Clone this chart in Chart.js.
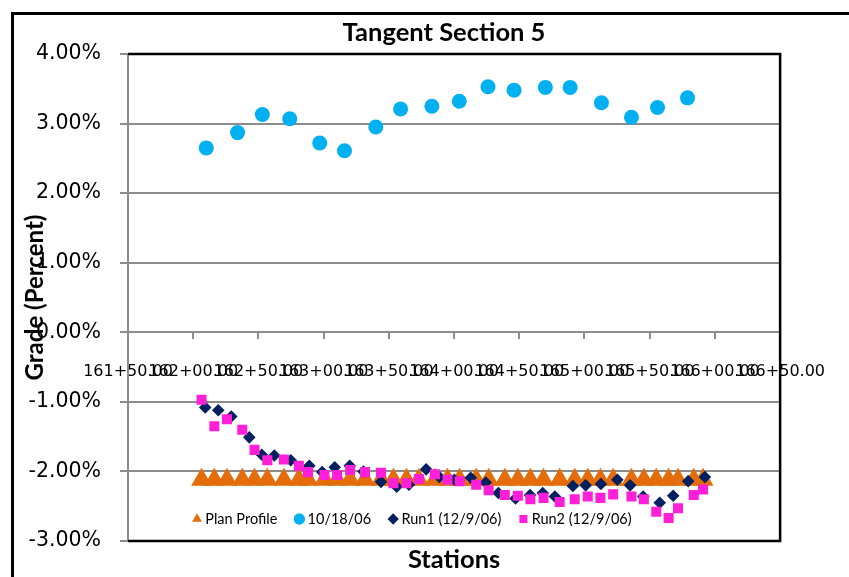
<!DOCTYPE html>
<html>
<head>
<meta charset="utf-8">
<script src="https://cdn.jsdelivr.net/npm/chart.js@4.4.1/dist/chart.umd.min.js"></script>
<style>
  html, body { margin: 0; padding: 0; width: 849px; height: 577px; overflow: hidden; background: #fff; }
  #frame { position: absolute; left: 11px; top: 12px; width: 1000px; height: 700px; border: 3px solid #000; box-sizing: border-box; }
  #wrap { position: absolute; left: 0; top: 0; width: 849px; height: 577px; }
</style>
</head>
<body>
<div id="frame"></div>
<div id="wrap"><canvas id="c" width="849" height="577"></canvas></div>
<script>
// ---- data (stations in feet, grades in percent) ----
const xTickLabels = ['161+50.00','162+00.00','162+50.00','163+00.00','163+50.00','164+00.00','164+50.00','165+00.00','165+50.00','166+00.00','166+50.00'];
const yTickLabels = ['-3.00%','-2.00%','-1.00%','0.00%','1.00%','2.00%','3.00%','4.00%'];

const seriesNames = ['Plan Profile', '10/18/06', 'Run1 (12/9/06)', 'Run2 (12/9/06)'];

const planStations = [16206.4,16216.2,16225.9,16237.6,16247.0,16256.8,16269.5,16281.0,16288.0,16300.6,16310.3,16320.3,16331.7,16344.0,16353.5,16363.5,16373.0,16385.3,16395.0,16404.3,16417.0,16426.5,16438.9,16448.9,16458.5,16468.6,16481.0,16492.5,16502.5,16512.2,16522.0,16536.0,16545.5,16555.0,16564.5,16571.7,16583.8,16590.9];
const planGrade = [-2.12,-2.12,-2.12,-2.12,-2.12,-2.12,-2.12,-2.12,-2.12,-2.12,-2.12,-2.12,-2.12,-2.12,-2.12,-2.12,-2.12,-2.12,-2.12,-2.12,-2.12,-2.12,-2.12,-2.12,-2.12,-2.12,-2.12,-2.12,-2.12,-2.12,-2.12,-2.12,-2.12,-2.12,-2.12,-2.12,-2.12,-2.12];

const oct18Stations = [16210,16234,16253,16274,16297,16316,16340,16359,16383,16404,16426,16446,16470,16489,16513,16536,16556,16579];
const oct18Grade = [2.65,2.87,3.13,3.07,2.72,2.61,2.95,3.21,3.25,3.32,3.53,3.48,3.52,3.52,3.30,3.09,3.23,3.37];

const run1Stations = [16209.2,16219.2,16229.2,16243.0,16252.6,16262.2,16274.8,16289.0,16298.9,16308.5,16320.0,16330.5,16344.0,16356.0,16365.4,16378.6,16388.7,16400.2,16412.8,16424.3,16434.0,16447.1,16458.3,16468.0,16477.3,16491.1,16500.9,16512.6,16525.2,16535.0,16545.0,16557.7,16568.0,16579.5,16592.3];
const run1Grade = [-1.08,-1.12,-1.21,-1.51,-1.76,-1.77,-1.84,-1.92,-2.01,-1.94,-1.92,-2.00,-2.15,-2.22,-2.19,-1.97,-2.08,-2.12,-2.09,-2.16,-2.31,-2.39,-2.34,-2.31,-2.36,-2.21,-2.20,-2.18,-2.12,-2.20,-2.36,-2.45,-2.35,-2.14,-2.08];

const run2Stations = [16206.4,16216.2,16225.9,16237.6,16247.0,16256.8,16269.5,16281.0,16288.0,16300.6,16310.3,16320.3,16331.7,16344.0,16353.5,16363.5,16373.0,16385.3,16395.0,16404.3,16417.0,16426.5,16438.9,16448.9,16458.5,16468.6,16481.0,16492.5,16502.5,16512.2,16522.0,16536.0,16545.5,16555.0,16564.5,16571.7,16583.8,16590.9];
const run2Grade = [-0.97,-1.35,-1.25,-1.40,-1.69,-1.84,-1.83,-1.92,-2.01,-2.05,-2.05,-1.98,-2.01,-2.02,-2.17,-2.17,-2.11,-2.04,-2.12,-2.14,-2.19,-2.27,-2.34,-2.35,-2.40,-2.38,-2.44,-2.40,-2.36,-2.38,-2.33,-2.36,-2.40,-2.58,-2.67,-2.53,-2.34,-2.26];

function pts(xs, ys) { return xs.map((x, i) => ({ x: x, y: ys[i] })); }

// frame around the plot area (top, right, bottom in black)
const plotFrame = {
  id: 'plotFrame',
  beforeDatasetsDraw(chart) {
    const { ctx, chartArea: a } = chart;
    ctx.save();
    ctx.strokeStyle = '#000';
    ctx.lineWidth = 2.5;
    ctx.beginPath();
    ctx.moveTo(a.left, a.top);
    ctx.lineTo(a.right, a.top);
    ctx.lineTo(a.right, a.bottom);
    ctx.lineTo(a.left, a.bottom);
    ctx.stroke();
    ctx.restore();
  }
};

// move the legend inside the plot area, near its bottom
const legendInside = {
  id: 'legendInside',
  afterLayout(chart) {
    const lg = chart.legend;
    if (!lg) return;
    const a = chart.chartArea;
    const w = 600, h = 60;
    lg.left = a.left + 47;
    lg.top = a.bottom - 50.25;
    lg.width = w; lg.height = h;
    lg.right = lg.left + w;
    lg.bottom = lg.top + h;
  }
};

const boldTitle = { family: 'Lato', weight: 'bold', size: 25.5, lineHeight: 1.2 };
const tickFamily = "'DejaVu Sans', 'Liberation Sans', sans-serif";

new Chart(document.getElementById('c'), {
  type: 'scatter',
  data: {
    datasets: [
      { label: seriesNames[0], data: pts(planStations, planGrade), order: 4,
        pointStyle: 'triangle', pointRadius: 12, backgroundColor: '#E46C0A', borderColor: '#E46C0A', borderWidth: 0 },
      { label: seriesNames[1], data: pts(oct18Stations, oct18Grade), order: 3,
        pointStyle: 'circle', pointRadius: 7.5, backgroundColor: '#00B0F0', borderColor: '#00B0F0', borderWidth: 0 },
      { label: seriesNames[2], data: pts(run1Stations, run1Grade), order: 2,
        pointStyle: 'rectRot', pointRadius: 6.3, backgroundColor: '#002060', borderColor: '#002060', borderWidth: 0 },
      { label: seriesNames[3], data: pts(run2Stations, run2Grade), order: 1,
        pointStyle: 'rect', pointRadius: 7.1, backgroundColor: '#FF1FD7', borderColor: '#FF1FD7', borderWidth: 0 }
    ]
  },
  options: {
    responsive: false,
    animation: false,
    events: [],
    devicePixelRatio: 1,
    layout: { autoPadding: false, padding: { left: 0, right: -39, top: 0, bottom: 0 } },
    plugins: {
      title: {
        display: true, text: 'Tangent Section 5', color: '#000',
        font: boldTitle, padding: { top: 17.5, bottom: 5.9 }
      },
      legend: {
        display: true, position: 'bottom', align: 'start', maxHeight: 1,
        labels: {
          usePointStyle: true, boxWidth: 2, boxHeight: 8, padding: 21, color: '#000',
          font: { family: 'Lato', size: 14.5 },
          sort: (a, b) => a.datasetIndex - b.datasetIndex
        }
      },
      tooltip: { enabled: false }
    },
    scales: {
      x: {
        type: 'linear', min: 16150, max: 16650, position: { y: 0 },
        afterFit: (s) => { s.height = 0; },
        ticks: {
          stepSize: 50, autoSkip: false, maxRotation: 0, minRotation: 0, padding: 24,
          color: '#000', font: { family: tickFamily, size: 16 },
          callback: (v) => xTickLabels[Math.round((v - 16150) / 50)]
        },
        grid: { drawOnChartArea: false, drawTicks: true, tickLength: 6, color: '#8c8c8c', lineWidth: 2 },
        border: { display: true, color: '#8c8c8c', width: 2 }
      },
      xb: {
        axis: 'x', type: 'linear', position: 'bottom', display: true,
        afterFit: (s) => { s.height = 35; },
        ticks: { display: false },
        grid: { display: false, drawTicks: false },
        border: { display: false },
        title: { display: true, text: 'Stations', color: '#000', font: boldTitle, padding: { top: 0, bottom: 1 } }
      },
      y: {
        type: 'linear', min: -3, max: 4, position: 'left',
        afterFit: (s) => { s.width = 128; },
        ticks: {
          stepSize: 1, padding: 19, color: '#000',
          font: { family: tickFamily, size: 20.5 },
          callback: (v) => yTickLabels[Math.round(v + 3)]
        },
        grid: { color: '#8c8c8c', lineWidth: 2, tickLength: 8 },
        border: { display: true, color: '#8c8c8c', width: 2 },
        title: { display: true, text: 'Grade (Percent)', color: '#000', font: { family: 'Lato', weight: 'bold', size: 24, lineHeight: 1.2 }, padding: { top: 20.6, bottom: 0 } }
      },
      y2: {
        axis: 'y', type: 'linear', position: 'right', display: true,
        afterFit: (s) => { s.width = 95; },
        ticks: { display: false },
        grid: { display: false, drawTicks: false },
        border: { display: false }
      }
    }
  },
  plugins: [plotFrame, legendInside]
});
</script>
</body>
</html>
